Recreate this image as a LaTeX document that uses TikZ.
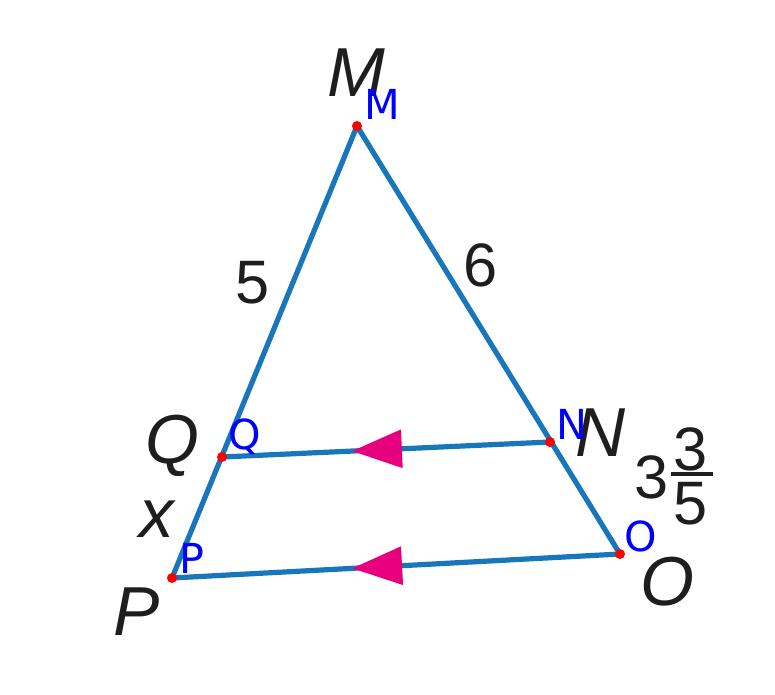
\documentclass[tikz,border=0pt]{standalone}
\usepackage{fontspec}
\setmainfont{Liberation Sans}
\newfontfamily\dejavu{DejaVu Sans}
\usetikzlibrary{arrows.meta,decorations.markings}
\definecolor{segblue}{RGB}{24,118,186}
\definecolor{tipmag}{RGB}{230,0,126}
\definecolor{lblblue}{RGB}{0,0,255}
\definecolor{txtdark}{RGB}{30,30,30}
\begin{document}
\begin{tikzpicture}[x=0.75pt,y=-0.75pt,
  seg/.style={draw=segblue,line width=3.9pt,line cap=round,line join=round},
  bigl/.style={font=\fontsize{52}{52}\selectfont\itshape,text=txtdark,inner sep=0pt},
  num/.style={font=\fontsize{46}{46}\selectfont,text=txtdark,inner sep=0pt},
  blbl/.style={font=\dejavu\fontsize{31}{31}\selectfont,text=lblblue,inner sep=0pt},
  dotpt/.style={fill=red},
  midtip/.style={postaction={decorate},decoration={markings,
     mark=at position #1 with {\arrow{Triangle[length=37.5pt,width=28pt,color=tipmag]}}}}
]
\useasboundingbox (0,0) rectangle (775,694);
\coordinate (M) at (357,126);
\coordinate (Q) at (222,457);
\coordinate (P) at (172,578);
\coordinate (N) at (550,442);
\coordinate (O) at (620,554);
\draw[seg] (P) -- (M) -- (O);
\draw[seg,midtip=0.604] (N) -- (Q);
\draw[seg,midtip=0.598] (O) -- (P);
\foreach \p in {M,Q,P,N,O} \fill[dotpt] (\p) circle (5);
\node[bigl] (lM) at (356,73) {M};
\node[bigl] (lQ) at (172,446) {Q};
\node[bigl] (lP) at (137,612) {P};
\node[bigl] (lN) at (601,433) {N};
\node[bigl] (lO) at (667,582) {O};
\node[bigl] (lx) at (157,519) {x};
\node[num] (l5) at (253,283) {5};
\node[num] (l6) at (481,265) {6};
\node[num] (w3) at (652,477) {3};
\node[num] (n3) at (691,449) {3};
\node[num] (d5) at (691,504) {5};
\draw[line width=2.6pt,txtdark] (671,474) -- (713,474);
\node[blbl] (bM) at (382,104) {M};
\node[blbl] (bQ) at (245,437) {Q};
\node[blbl] (bP) at (192,558) {P};
\node[blbl] (bN) at (572,424) {N};
\node[blbl] (bO) at (641,536) {O};
\end{tikzpicture}
\end{document}
